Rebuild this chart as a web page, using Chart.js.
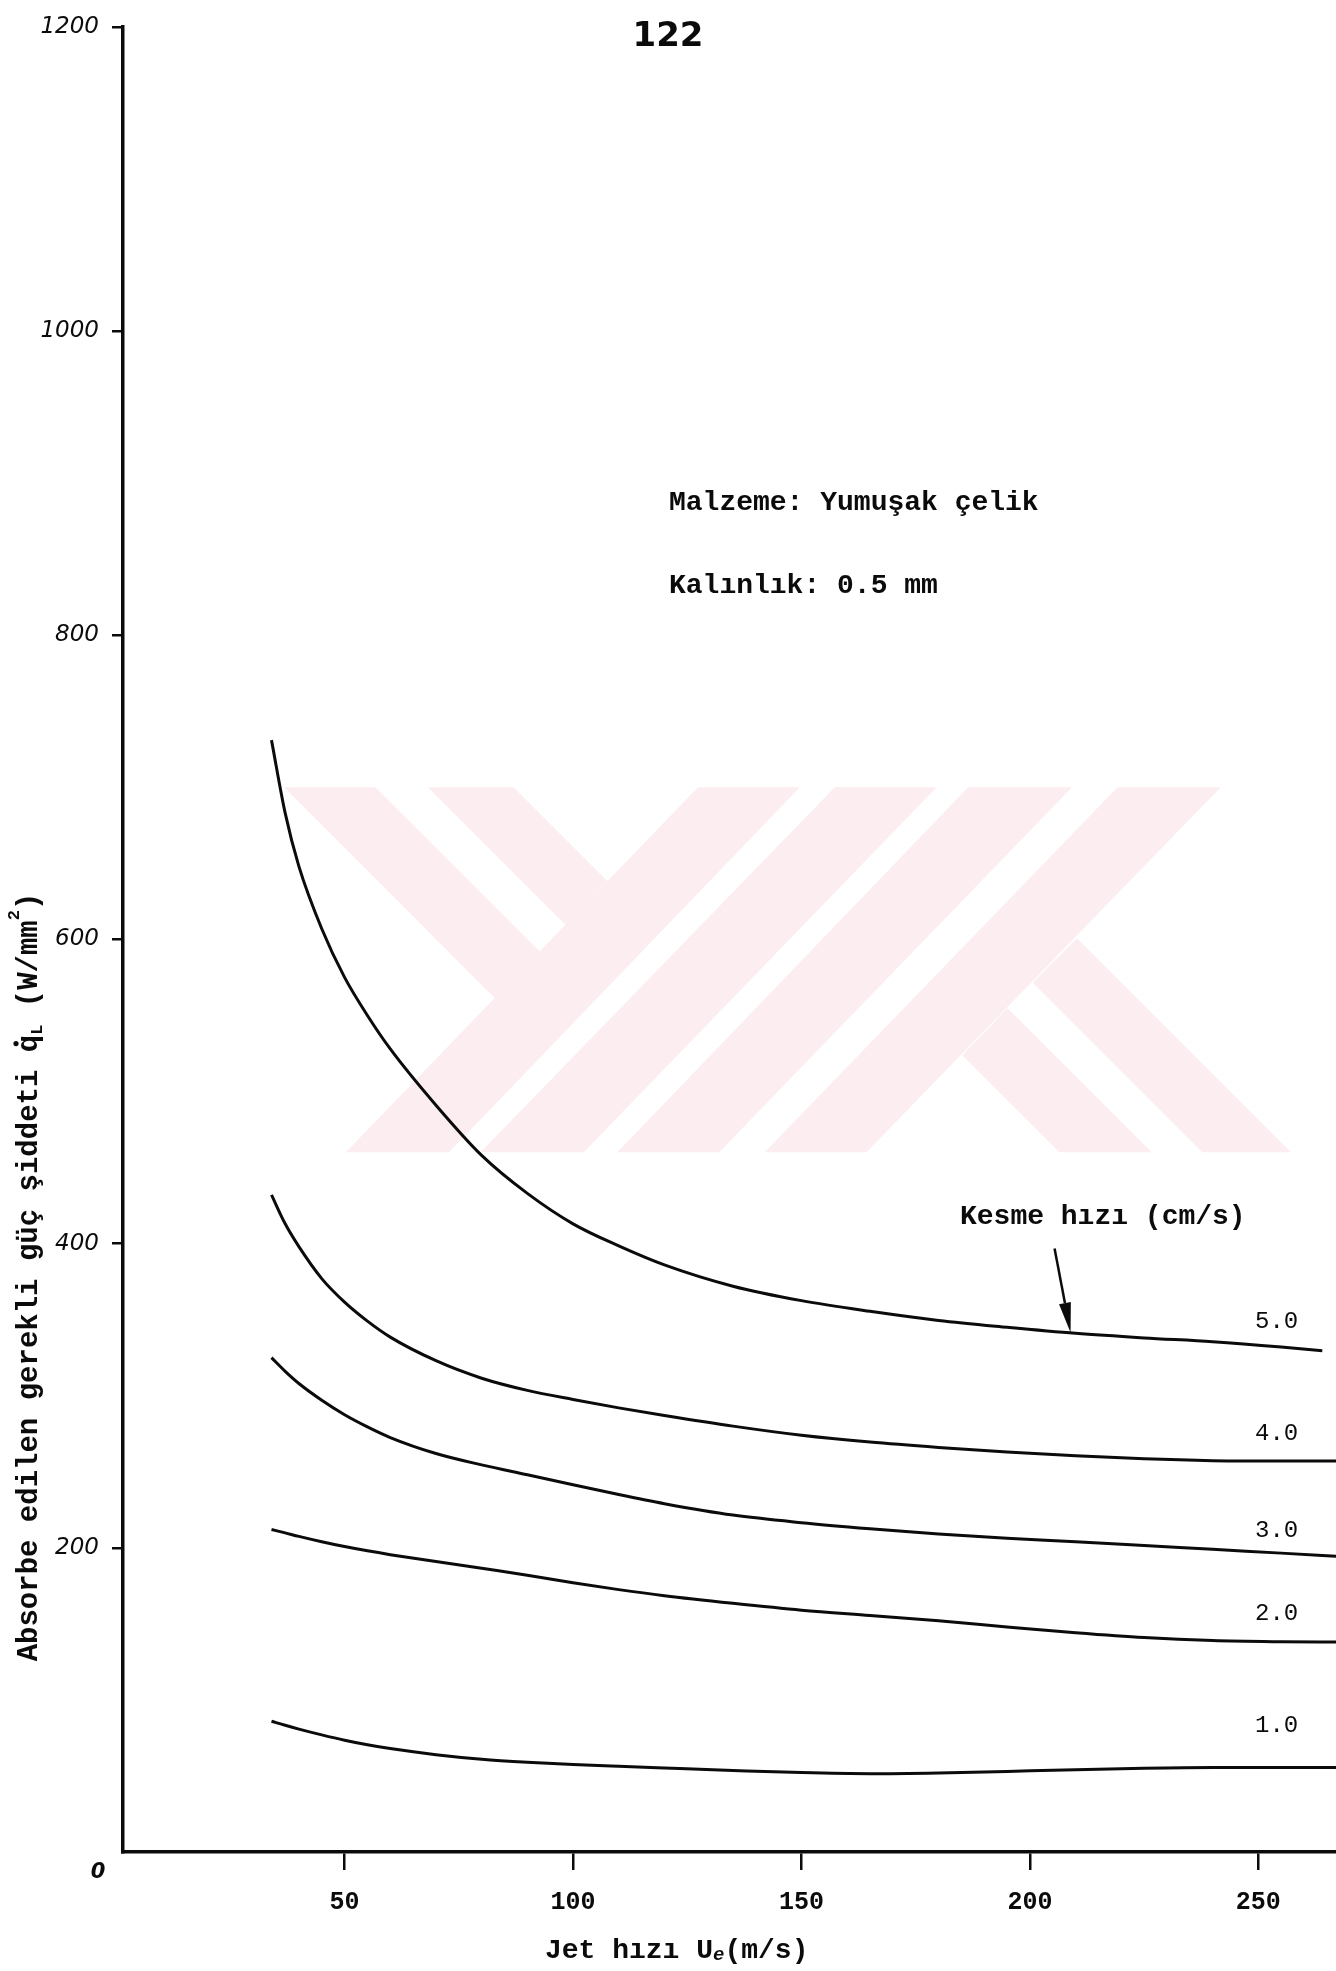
<!DOCTYPE html>
<html>
<head>
<meta charset="utf-8">
<script src="https://cdn.jsdelivr.net/npm/chart.js@4.4.1/dist/chart.umd.min.js"></script>
<style>
  html, body { margin: 0; padding: 0; background: #fff; }
  canvas { display: block; }
</style>
</head>
<body>
<canvas id="chart" width="1336" height="1971"></canvas>
<script>
// Jet speed Ue (m/s) sampled along the curves
const jetSpeed = [34, 37, 40, 45, 50, 55, 60, 70, 80, 90, 100, 110, 120, 135, 150, 165, 180, 195, 210, 225, 240, 255, 264, 267];

// Absorbed power intensity qL (W/mm²) for each cutting speed (cm/s)
const qCut50 = [731, 683, 648, 607, 575, 550, 528, 491, 458, 433, 413, 398.5, 386, 372, 362.5, 355.5, 349.5, 345, 341, 338, 335.5, 332, 329.5, null];
const qCut40 = [432, 413, 398, 377, 361.5, 349, 338.5, 323, 311.5, 303.5, 297.5, 292, 287, 280, 274, 269.5, 266, 263, 260.5, 258.5, 257.3, 257, 257, 257];
const qCut30 = [325, 316, 308, 297, 287.5, 279.5, 272.5, 262, 254.5, 248, 241.5, 235, 229, 221.5, 216.5, 212.5, 209, 206.3, 204, 201.5, 199, 196.5, 195, 194.5];
const qCut20 = [212, 209.8, 207.5, 204, 200.8, 198, 195.5, 191, 186.5, 182, 177, 172.5, 168.5, 163.5, 159, 155.5, 152, 148, 144.2, 141, 139, 138.2, 138, 138];
const qCut10 = [86, 83.3, 80.8, 77, 73.5, 70.5, 68, 64, 61, 59, 57.5, 56.3, 55.2, 53.6, 52.2, 51.5, 52, 53, 54, 55, 55.5, 55.5, 55.5, 55.5];

const cutSpeedLabels = ['5.0', '4.0', '3.0', '2.0', '1.0'];
const seriesValues = [qCut50, qCut40, qCut30, qCut20, qCut10];

const xTickValues = [50, 100, 150, 200, 250];
const yTickValues = [200, 400, 600, 800, 1000, 1200];

const INK = '#0b0b0b';
const TYPE = '"Liberation Mono", "DejaVu Sans Mono", monospace';

// Curve label anchors in data units (x, y)
const curveLabelAnchors = [[254, 349], [254, 275], [254, 211], [254, 157], [254, 83]];
// Point on the 5.0 curve the arrow points at
const arrowTarget = [208.9, 341.5];

// Faint logo shapes in the plot background (canvas pixels)
const logoShapes = [
  [[284.2, 787.3], [375.4, 787.3], [539.7, 951.6], [494.9, 998.0]],
  [[428.0, 787.3], [513.6, 787.3], [607.5, 881.2], [565.5, 924.8]],
  [[698.1, 787.3], [799.8, 787.3], [449.0, 1152.3], [345.9, 1152.3]],
  [[834.9, 787.3], [936.6, 787.3], [583.7, 1152.3], [480.6, 1152.3]],
  [[968.2, 787.3], [1072.0, 787.3], [719.1, 1152.3], [617.4, 1152.3]],
  [[1117.6, 787.3], [1220.7, 787.3], [866.4, 1152.3], [764.7, 1152.3]],
  [[1076.9, 938.3], [1290.9, 1152.3], [1202.3, 1152.3], [1032.7, 982.7]],
  [[962.3, 1055.2], [1007.4, 1008.3], [1151.4, 1152.3], [1059.4, 1152.3]]
];

function drawPieces(ctx, pieces, startX) {
  let x = startX;
  const marks = [];
  pieces.forEach(p => {
    ctx.font = p.f;
    ctx.fillText(p.t, x, p.dy);
    const w = ctx.measureText(p.t).width;
    marks.push({ start: x, end: x + w });
    x += w;
  });
  return marks;
}

function piecesWidth(ctx, pieces) {
  return pieces.reduce((s, p) => { ctx.font = p.f; return s + ctx.measureText(p.t).width; }, 0);
}

const pageDecor = {
  id: 'pageDecor',
  beforeDraw(chart) {
    const ctx = chart.ctx;
    ctx.save();
    ctx.fillStyle = '#ffffff';
    ctx.fillRect(0, 0, chart.width, chart.height);
    ctx.restore();
  },
  beforeDatasetsDraw(chart) {
    const ctx = chart.ctx;
    ctx.save();
    ctx.fillStyle = '#fcedf0';
    logoShapes.forEach(poly => {
      ctx.beginPath();
      poly.forEach(([x, y], i) => (i ? ctx.lineTo(x, y) : ctx.moveTo(x, y)));
      ctx.closePath();
      ctx.fill();
    });
    ctx.restore();
  },
  afterDraw(chart) {
    const ctx = chart.ctx;
    const xs = chart.scales.x, ys = chart.scales.y;
    ctx.save();
    ctx.fillStyle = INK;
    ctx.strokeStyle = INK;

    // page number
    ctx.font = 'bold 34px "DejaVu Sans", sans-serif';
    ctx.textAlign = 'center';
    ctx.textBaseline = 'middle';
    ctx.fillText('122', 668, 37);

    // material notes
    ctx.textAlign = 'left';
    ctx.font = 'bold 28px ' + TYPE;
    ctx.fillText('Malzeme: Yumuşak çelik', 669, 503);
    ctx.fillText('Kalınlık: 0.5 mm', 669, 586);
    ctx.fillText('Kesme hızı (cm/s)', 960, 1217);

    // curve labels
    ctx.font = '24px ' + TYPE;
    ctx.textAlign = 'center';
    cutSpeedLabels.forEach((lab, i) => {
      const [vx, vy] = curveLabelAnchors[i];
      ctx.fillText(lab, xs.getPixelForValue(vx), ys.getPixelForValue(vy));
    });

    // arrow to the 5.0 curve
    const tipX = xs.getPixelForValue(arrowTarget[0]);
    const tipY = ys.getPixelForValue(arrowTarget[1]);
    const tailX = tipX - 16, tailY = tipY - 84;
    const ang = Math.atan2(tipY - tailY, tipX - tailX);
    const headLen = 30, headHalf = 6;
    const baseX = tipX - headLen * Math.cos(ang), baseY = tipY - headLen * Math.sin(ang);
    ctx.lineWidth = 2.5;
    ctx.beginPath();
    ctx.moveTo(tailX, tailY);
    ctx.lineTo(baseX, baseY);
    ctx.stroke();
    ctx.beginPath();
    ctx.moveTo(tipX, tipY);
    ctx.lineTo(baseX + headHalf * Math.sin(ang), baseY - headHalf * Math.cos(ang));
    ctx.lineTo(baseX - headHalf * Math.sin(ang), baseY + headHalf * Math.cos(ang));
    ctx.closePath();
    ctx.fill();

    // origin label
    ctx.font = 'italic bold 21px "DejaVu Sans", sans-serif';
    ctx.textAlign = 'center';
    ctx.fillText('0', xs.left - 25, ys.bottom + 21);

    // x axis title
    ctx.textAlign = 'left';
    ctx.textBaseline = 'middle';
    ctx.save();
    ctx.translate(0, 1951);
    drawPieces(ctx, [
      { t: 'Jet hızı U', f: 'bold 28px ' + TYPE, dy: 0 },
      { t: 'e', f: 'italic bold 19px ' + TYPE, dy: 4 },
      { t: '(m/s)', f: 'bold 28px ' + TYPE, dy: 0 }
    ], 545);
    ctx.restore();

    // y axis title
    ctx.save();
    ctx.translate(30, 1277);
    ctx.rotate(-Math.PI / 2);
    const yPieces = [
      { t: 'Absorbe edilen gerekli güç şiddeti q', f: 'bold 29px ' + TYPE, dy: 0 },
      { t: 'L', f: 'bold 17px ' + TYPE, dy: 8 },
      { t: ' (W/mm', f: 'bold 29px ' + TYPE, dy: 0 },
      { t: '2', f: 'bold 17px ' + TYPE, dy: -15 },
      { t: ')', f: 'bold 29px ' + TYPE, dy: 0 }
    ];
    const total = piecesWidth(ctx, yPieces);
    const marks = drawPieces(ctx, yPieces, -total / 2);
    // dot over the q
    ctx.font = 'bold 29px ' + TYPE;
    const qw = ctx.measureText('q').width;
    ctx.beginPath();
    ctx.arc(marks[0].end - qw / 2, -14, 2.6, 0, Math.PI * 2);
    ctx.fill();
    ctx.restore();

    ctx.restore();
  }
};

const datasets = seriesValues.map((vals, i) => ({
  label: cutSpeedLabels[i],
  data: jetSpeed.map((x, j) => ({ x: x, y: vals[j] })),
  borderColor: INK,
  borderWidth: 3,
  pointRadius: 0,
  fill: false,
  spanGaps: false,
  cubicInterpolationMode: 'monotone'
}));

new Chart(document.getElementById('chart').getContext('2d'), {
  type: 'line',
  data: { datasets },
  options: {
    responsive: false,
    animation: false,
    devicePixelRatio: 1,
    layout: { padding: { top: 23, left: 0, right: 0, bottom: 0 } },
    plugins: { legend: { display: false }, tooltip: { enabled: false }, title: { display: false } },
    scales: {
      x: {
        type: 'linear',
        min: 1.5,
        max: 267,
        afterFit(scale) { scale.height = 119; },
        afterBuildTicks(scale) { scale.ticks = xTickValues.map(v => ({ value: v })); },
        grid: { display: true, drawOnChartArea: false, drawTicks: true, tickLength: 18, color: INK, lineWidth: 2.5 },
        border: { display: true, color: INK, width: 3.5 },
        ticks: {
          color: INK,
          font: { family: TYPE, size: 25, weight: 'bold' },
          padding: 18,
          maxRotation: 0,
          autoSkip: false,
          callback: v => String(v)
        }
      },
      y: {
        type: 'linear',
        min: 0,
        max: 1200,
        afterFit(scale) { scale.width = 123; },
        afterBuildTicks(scale) { scale.ticks = yTickValues.map(v => ({ value: v })); },
        grid: { display: true, drawOnChartArea: false, drawTicks: true, tickLength: 11, color: INK, lineWidth: 2.5 },
        border: { display: true, color: INK, width: 3.5 },
        ticks: {
          color: INK,
          font: { family: '"DejaVu Sans", sans-serif', size: 23, style: 'italic' },
          padding: 13,
          autoSkip: false,
          callback: v => String(v)
        }
      }
    }
  },
  plugins: [pageDecor]
});
</script>
</body>
</html>
